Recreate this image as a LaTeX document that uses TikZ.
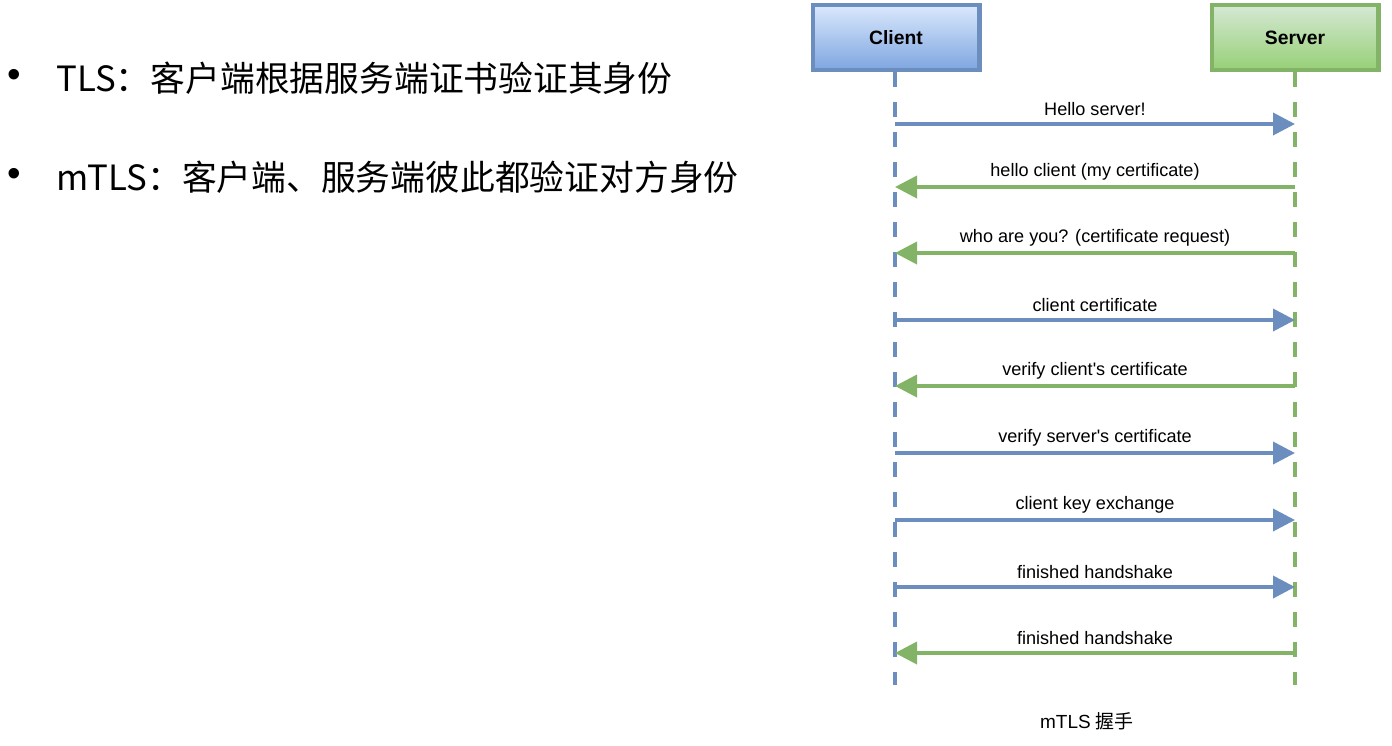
\documentclass[tikz,border=0pt]{standalone}
\usepackage{fontspec}
\setmainfont{Liberation Sans}
\newfontfamily\cjk{Noto Sans CJK SC}
\usetikzlibrary{arrows.meta}

\definecolor{cblue}{HTML}{6C8EBF}
\definecolor{cgreen}{HTML}{82B366}
\definecolor{ctop}{HTML}{DAE8FC}
\definecolor{cbot}{HTML}{7EA6E0}
\definecolor{stop}{HTML}{D5E8D4}
\definecolor{sbot}{HTML}{97D077}

\begin{document}
\begin{tikzpicture}[x=0.02cm,y=-0.02cm,
  >={Triangle[length=0.44cm,width=0.44cm]},
  actor/.style={draw,line width=2.3pt,minimum width=3.34cm,minimum height=1.3cm,
    inner sep=0pt,font=\bfseries\fontsize{11}{13}\selectfont},
  life/.style={line width=2.3pt,dash pattern=on 0.3cm off 0.3cm},
  msg/.style={->,line width=2.1pt},
  lbl/.style={inner sep=0pt,font=\fontsize{10.3}{12}\selectfont},
  item/.style={anchor=west,inner sep=0pt,font=\cjk\fontsize{19.8}{24}\selectfont}]

\useasboundingbox (0,0) rectangle (1392,745);

% left: the two points
\node[inner sep=0pt,font=\fontsize{22}{24}\selectfont] (dot1) at (14,78) {•};
\node[item] (tls) at (56,78) {TLS：客户端根据服务端证书验证其身份};
\node[inner sep=0pt,font=\fontsize{22}{24}\selectfont] (dot2) at (14,177) {•};
\node[item] (mtls) at (56,177) {mTLS：客户端、服务端彼此都验证对方身份};

% right: the handshake
\node[actor,draw=cblue,top color=ctop,bottom color=cbot] (client) at (896,37.5) {Client};
\node[actor,draw=cgreen,top color=stop,bottom color=sbot] (server) at (1295,37.5) {Server};

\coordinate (cend) at (895,685);
\coordinate (send) at (1295,685);

\path [draw,life,cblue]
    (client.south -| cend) -- (cend)
;
\path [draw,life,cgreen]
    (server.south -| send) -- (send)
;

\foreach \y in {124,187,253,320,386,453,520,587,653} {
  \coordinate (c\y) at (895,\y);
  \coordinate (s\y) at (1295,\y);
}

% client to server
\foreach \y/\txt in {124/{Hello server!},320/{client certificate},
    453/{verify server\textquotesingle s certificate},520/{client key exchange},
    587/{finished handshake}}
  \draw[msg,cblue] (c\y) -- (s\y) node[lbl,text=black,midway,yshift=0.3cm] (m\y) {\txt};

% server to client
\foreach \y/\txt in {187/{hello client (my certificate)},
    253/{who are you? (certificate request)},
    386/{verify client\textquotesingle s certificate},653/{finished handshake}}
  \draw[msg,cgreen] (s\y) -- (c\y) node[lbl,text=black,midway,yshift=0.3cm] (m\y) {\txt};

\node[inner sep=0pt,font=\fontsize{10.8}{13}\selectfont] (cap) at (1087,721) {mTLS {\cjk 握手}};

\end{tikzpicture}
\end{document}
